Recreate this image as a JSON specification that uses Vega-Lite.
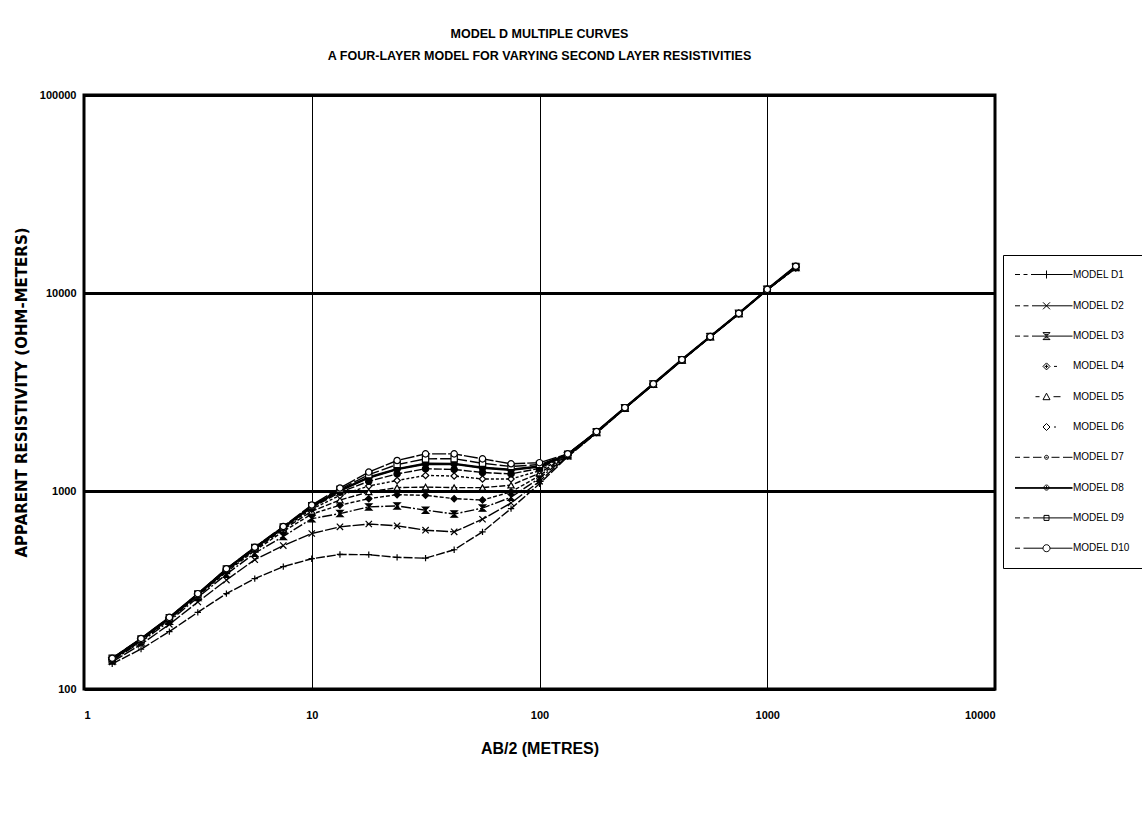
{
  "$schema": "https://vega.github.io/schema/vega-lite/v6.json",
  "autosize": "none",
  "width": 911,
  "height": 594,
  "padding": {"left": 84, "top": 95, "right": 147, "bottom": 127},
  "background": "white",
  "title": {
    "text": ["MODEL D MULTIPLE CURVES", "A FOUR-LAYER MODEL FOR  VARYING SECOND LAYER RESISTIVITIES"],
    "font": "Liberation Sans Narrow, Liberation Sans",
    "fontSize": 12.5,
    "fontWeight": "bold",
    "lineHeight": 22,
    "offset": 27,
    "frame": "group",
    "anchor": "middle",
    "color": "black"
  },
  "data": {
    "values": [
      {"m":"MODEL D1","x":1.33,"y":134},{"m":"MODEL D1","x":1.78,"y":159},{"m":"MODEL D1","x":2.37,"y":195},{"m":"MODEL D1","x":3.16,"y":244},{"m":"MODEL D1","x":4.22,"y":303},{"m":"MODEL D1","x":5.62,"y":361},{"m":"MODEL D1","x":7.5,"y":415},{"m":"MODEL D1","x":10,"y":455},{"m":"MODEL D1","x":13.3,"y":478},{"m":"MODEL D1","x":17.8,"y":477},{"m":"MODEL D1","x":23.7,"y":462},{"m":"MODEL D1","x":31.6,"y":458},{"m":"MODEL D1","x":42.2,"y":505},{"m":"MODEL D1","x":56.2,"y":622},{"m":"MODEL D1","x":75,"y":815},{"m":"MODEL D1","x":100,"y":1088},{"m":"MODEL D1","x":133,"y":1490},{"m":"MODEL D1","x":178,"y":1960},{"m":"MODEL D1","x":237,"y":2610},{"m":"MODEL D1","x":316,"y":3450},{"m":"MODEL D1","x":422,"y":4580},{"m":"MODEL D1","x":562,"y":6000},{"m":"MODEL D1","x":750,"y":7860},{"m":"MODEL D1","x":1000,"y":10380},{"m":"MODEL D1","x":1334,"y":13300},
      {"m":"MODEL D2","x":1.33,"y":137},{"m":"MODEL D2","x":1.78,"y":168},{"m":"MODEL D2","x":2.37,"y":212},{"m":"MODEL D2","x":3.16,"y":275},{"m":"MODEL D2","x":4.22,"y":355},{"m":"MODEL D2","x":5.62,"y":450},{"m":"MODEL D2","x":7.5,"y":530},{"m":"MODEL D2","x":10,"y":610},{"m":"MODEL D2","x":13.3,"y":659},{"m":"MODEL D2","x":17.8,"y":681},{"m":"MODEL D2","x":23.7,"y":667},{"m":"MODEL D2","x":31.6,"y":634},{"m":"MODEL D2","x":42.2,"y":622},{"m":"MODEL D2","x":56.2,"y":720},{"m":"MODEL D2","x":75,"y":870},{"m":"MODEL D2","x":100,"y":1120},{"m":"MODEL D2","x":133,"y":1500},{"m":"MODEL D2","x":178,"y":1970},{"m":"MODEL D2","x":237,"y":2615},{"m":"MODEL D2","x":316,"y":3455},{"m":"MODEL D2","x":422,"y":4585},{"m":"MODEL D2","x":562,"y":6005},{"m":"MODEL D2","x":750,"y":7865},{"m":"MODEL D2","x":1000,"y":10390},{"m":"MODEL D2","x":1334,"y":13400},
      {"m":"MODEL D3","x":1.33,"y":139},{"m":"MODEL D3","x":1.78,"y":173},{"m":"MODEL D3","x":2.37,"y":220},{"m":"MODEL D3","x":3.16,"y":290},{"m":"MODEL D3","x":4.22,"y":380},{"m":"MODEL D3","x":5.62,"y":485},{"m":"MODEL D3","x":7.5,"y":590},{"m":"MODEL D3","x":10,"y":725},{"m":"MODEL D3","x":13.3,"y":769},{"m":"MODEL D3","x":17.8,"y":831},{"m":"MODEL D3","x":23.7,"y":841},{"m":"MODEL D3","x":31.6,"y":800},{"m":"MODEL D3","x":42.2,"y":765},{"m":"MODEL D3","x":56.2,"y":820},{"m":"MODEL D3","x":75,"y":930},{"m":"MODEL D3","x":100,"y":1160},{"m":"MODEL D3","x":133,"y":1505},{"m":"MODEL D3","x":178,"y":1975},{"m":"MODEL D3","x":237,"y":2620},{"m":"MODEL D3","x":316,"y":3460},{"m":"MODEL D3","x":422,"y":4590},{"m":"MODEL D3","x":562,"y":6010},{"m":"MODEL D3","x":750,"y":7870},{"m":"MODEL D3","x":1000,"y":10400},{"m":"MODEL D3","x":1334,"y":13450},
      {"m":"MODEL D4","x":1.33,"y":140},{"m":"MODEL D4","x":1.78,"y":175},{"m":"MODEL D4","x":2.37,"y":224},{"m":"MODEL D4","x":3.16,"y":295},{"m":"MODEL D4","x":4.22,"y":390},{"m":"MODEL D4","x":5.62,"y":500},{"m":"MODEL D4","x":7.5,"y":625},{"m":"MODEL D4","x":10,"y":765},{"m":"MODEL D4","x":13.3,"y":848},{"m":"MODEL D4","x":17.8,"y":915},{"m":"MODEL D4","x":23.7,"y":958},{"m":"MODEL D4","x":31.6,"y":951},{"m":"MODEL D4","x":42.2,"y":915},{"m":"MODEL D4","x":56.2,"y":900},{"m":"MODEL D4","x":75,"y":990},{"m":"MODEL D4","x":100,"y":1195},{"m":"MODEL D4","x":133,"y":1510},{"m":"MODEL D4","x":178,"y":1980},{"m":"MODEL D4","x":237,"y":2620},{"m":"MODEL D4","x":316,"y":3460},{"m":"MODEL D4","x":422,"y":4590},{"m":"MODEL D4","x":562,"y":6010},{"m":"MODEL D4","x":750,"y":7870},{"m":"MODEL D4","x":1000,"y":10400},{"m":"MODEL D4","x":1334,"y":13500},
      {"m":"MODEL D5","x":1.33,"y":141},{"m":"MODEL D5","x":1.78,"y":176},{"m":"MODEL D5","x":2.37,"y":226},{"m":"MODEL D5","x":3.16,"y":297},{"m":"MODEL D5","x":4.22,"y":395},{"m":"MODEL D5","x":5.62,"y":507},{"m":"MODEL D5","x":7.5,"y":640},{"m":"MODEL D5","x":10,"y":790},{"m":"MODEL D5","x":13.3,"y":900},{"m":"MODEL D5","x":17.8,"y":990},{"m":"MODEL D5","x":23.7,"y":1040},{"m":"MODEL D5","x":31.6,"y":1047},{"m":"MODEL D5","x":42.2,"y":1040},{"m":"MODEL D5","x":56.2,"y":1040},{"m":"MODEL D5","x":75,"y":1070},{"m":"MODEL D5","x":100,"y":1230},{"m":"MODEL D5","x":133,"y":1515},{"m":"MODEL D5","x":178,"y":1980},{"m":"MODEL D5","x":237,"y":2625},{"m":"MODEL D5","x":316,"y":3465},{"m":"MODEL D5","x":422,"y":4595},{"m":"MODEL D5","x":562,"y":6015},{"m":"MODEL D5","x":750,"y":7875},{"m":"MODEL D5","x":1000,"y":10410},{"m":"MODEL D5","x":1334,"y":13500},
      {"m":"MODEL D6","x":1.33,"y":141},{"m":"MODEL D6","x":1.78,"y":177},{"m":"MODEL D6","x":2.37,"y":227},{"m":"MODEL D6","x":3.16,"y":299},{"m":"MODEL D6","x":4.22,"y":398},{"m":"MODEL D6","x":5.62,"y":511},{"m":"MODEL D6","x":7.5,"y":648},{"m":"MODEL D6","x":10,"y":810},{"m":"MODEL D6","x":13.3,"y":950},{"m":"MODEL D6","x":17.8,"y":1060},{"m":"MODEL D6","x":23.7,"y":1130},{"m":"MODEL D6","x":31.6,"y":1199},{"m":"MODEL D6","x":42.2,"y":1190},{"m":"MODEL D6","x":56.2,"y":1150},{"m":"MODEL D6","x":75,"y":1150},{"m":"MODEL D6","x":100,"y":1265},{"m":"MODEL D6","x":133,"y":1520},{"m":"MODEL D6","x":178,"y":1985},{"m":"MODEL D6","x":237,"y":2625},{"m":"MODEL D6","x":316,"y":3465},{"m":"MODEL D6","x":422,"y":4595},{"m":"MODEL D6","x":562,"y":6015},{"m":"MODEL D6","x":750,"y":7875},{"m":"MODEL D6","x":1000,"y":10410},{"m":"MODEL D6","x":1334,"y":13550},
      {"m":"MODEL D7","x":1.33,"y":142},{"m":"MODEL D7","x":1.78,"y":178},{"m":"MODEL D7","x":2.37,"y":228},{"m":"MODEL D7","x":3.16,"y":300},{"m":"MODEL D7","x":4.22,"y":400},{"m":"MODEL D7","x":5.62,"y":514},{"m":"MODEL D7","x":7.5,"y":652},{"m":"MODEL D7","x":10,"y":825},{"m":"MODEL D7","x":13.3,"y":985},{"m":"MODEL D7","x":17.8,"y":1120},{"m":"MODEL D7","x":23.7,"y":1220},{"m":"MODEL D7","x":31.6,"y":1295},{"m":"MODEL D7","x":42.2,"y":1285},{"m":"MODEL D7","x":56.2,"y":1240},{"m":"MODEL D7","x":75,"y":1220},{"m":"MODEL D7","x":100,"y":1300},{"m":"MODEL D7","x":133,"y":1525},{"m":"MODEL D7","x":178,"y":1985},{"m":"MODEL D7","x":237,"y":2630},{"m":"MODEL D7","x":316,"y":3470},{"m":"MODEL D7","x":422,"y":4600},{"m":"MODEL D7","x":562,"y":6020},{"m":"MODEL D7","x":750,"y":7880},{"m":"MODEL D7","x":1000,"y":10420},{"m":"MODEL D7","x":1334,"y":13550},
      {"m":"MODEL D8","x":1.33,"y":142},{"m":"MODEL D8","x":1.78,"y":179},{"m":"MODEL D8","x":2.37,"y":229},{"m":"MODEL D8","x":3.16,"y":301},{"m":"MODEL D8","x":4.22,"y":402},{"m":"MODEL D8","x":5.62,"y":516},{"m":"MODEL D8","x":7.5,"y":655},{"m":"MODEL D8","x":10,"y":835},{"m":"MODEL D8","x":13.3,"y":1005},{"m":"MODEL D8","x":17.8,"y":1170},{"m":"MODEL D8","x":23.7,"y":1290},{"m":"MODEL D8","x":31.6,"y":1372},{"m":"MODEL D8","x":42.2,"y":1370},{"m":"MODEL D8","x":56.2,"y":1310},{"m":"MODEL D8","x":75,"y":1280},{"m":"MODEL D8","x":100,"y":1330},{"m":"MODEL D8","x":133,"y":1530},{"m":"MODEL D8","x":178,"y":1990},{"m":"MODEL D8","x":237,"y":2630},{"m":"MODEL D8","x":316,"y":3470},{"m":"MODEL D8","x":422,"y":4600},{"m":"MODEL D8","x":562,"y":6020},{"m":"MODEL D8","x":750,"y":7880},{"m":"MODEL D8","x":1000,"y":10420},{"m":"MODEL D8","x":1334,"y":13600},
      {"m":"MODEL D9","x":1.33,"y":143},{"m":"MODEL D9","x":1.78,"y":179},{"m":"MODEL D9","x":2.37,"y":229},{"m":"MODEL D9","x":3.16,"y":302},{"m":"MODEL D9","x":4.22,"y":404},{"m":"MODEL D9","x":5.62,"y":518},{"m":"MODEL D9","x":7.5,"y":658},{"m":"MODEL D9","x":10,"y":843},{"m":"MODEL D9","x":13.3,"y":1020},{"m":"MODEL D9","x":17.8,"y":1210},{"m":"MODEL D9","x":23.7,"y":1360},{"m":"MODEL D9","x":31.6,"y":1453},{"m":"MODEL D9","x":42.2,"y":1455},{"m":"MODEL D9","x":56.2,"y":1380},{"m":"MODEL D9","x":75,"y":1330},{"m":"MODEL D9","x":100,"y":1360},{"m":"MODEL D9","x":133,"y":1535},{"m":"MODEL D9","x":178,"y":1990},{"m":"MODEL D9","x":237,"y":2635},{"m":"MODEL D9","x":316,"y":3475},{"m":"MODEL D9","x":422,"y":4605},{"m":"MODEL D9","x":562,"y":6025},{"m":"MODEL D9","x":750,"y":7885},{"m":"MODEL D9","x":1000,"y":10430},{"m":"MODEL D9","x":1334,"y":13600},
      {"m":"MODEL D10","x":1.33,"y":143},{"m":"MODEL D10","x":1.78,"y":180},{"m":"MODEL D10","x":2.37,"y":230},{"m":"MODEL D10","x":3.16,"y":303},{"m":"MODEL D10","x":4.22,"y":405},{"m":"MODEL D10","x":5.62,"y":520},{"m":"MODEL D10","x":7.5,"y":662},{"m":"MODEL D10","x":10,"y":850},{"m":"MODEL D10","x":13.3,"y":1035},{"m":"MODEL D10","x":17.8,"y":1246},{"m":"MODEL D10","x":23.7,"y":1426},{"m":"MODEL D10","x":31.6,"y":1540},{"m":"MODEL D10","x":42.2,"y":1540},{"m":"MODEL D10","x":56.2,"y":1453},{"m":"MODEL D10","x":75,"y":1372},{"m":"MODEL D10","x":100,"y":1390},{"m":"MODEL D10","x":133,"y":1540},{"m":"MODEL D10","x":178,"y":1995},{"m":"MODEL D10","x":237,"y":2635},{"m":"MODEL D10","x":316,"y":3475},{"m":"MODEL D10","x":422,"y":4605},{"m":"MODEL D10","x":562,"y":6025},{"m":"MODEL D10","x":750,"y":7885},{"m":"MODEL D10","x":1000,"y":10430},{"m":"MODEL D10","x":1334,"y":13650}
    ]
  },
  "encoding": {
    "x": {
      "field": "x",
      "type": "quantitative",
      "title": "AB/2 (METRES)",
      "scale": {"type": "log", "domain": [1, 10000], "nice": false},
      "axis": {
        "values": [1, 10, 100, 1000, 10000],
        "format": "d",
        "gridColor": "black",
        "gridWidth": 1,
        "gridOpacity": 1,
        "ticks": false,
        "domain": false,
        "labelPadding": 20,
        "labelFontSize": 11,
        "labelFontWeight": "bold",
        "titleFontSize": 16,
        "titleFontWeight": "bold",
        "titlePadding": 20
      }
    },
    "y": {
      "field": "y",
      "type": "quantitative",
      "title": "APPARENT RESISTIVITY (OHM-METERS)",
      "scale": {"type": "log", "domain": [100, 100000], "nice": false},
      "axis": {
        "values": [100, 1000, 10000, 100000],
        "format": "d",
        "gridColor": "black",
        "gridWidth": 3,
        "gridOpacity": 1,
        "ticks": false,
        "domain": false,
        "labelPadding": 8,
        "labelFontSize": 11,
        "labelFontWeight": "bold",
        "titleFontSize": 15,
        "titleFontWeight": "bold",
        "titleFont": "DejaVu Sans",
        "titlePadding": 10
      }
    }
  },
  "layer": [
    {
      "mark": {"type": "line", "color": "black", "strokeWidth": 1.4, "clip": true},
      "encoding": {
        "detail": {"field": "m", "type": "nominal"},
        "strokeDash": {
          "field": "m",
          "type": "nominal",
          "legend": null,
          "scale": {
            "domain": ["MODEL D1","MODEL D2","MODEL D3","MODEL D4","MODEL D5","MODEL D6","MODEL D7","MODEL D8","MODEL D9","MODEL D10"],
            "range": [[9,2],[12,2],[10,2,2,2],[4,2],[6,2],[3,2],[8,2],[1,0],[12,3],[14,2]]
          }
        }
      }
    },
    {
      "transform": [{"filter": "datum.m == 'MODEL D8'"}],
      "mark": {"type": "line", "color": "black", "strokeWidth": 2.4, "clip": true},
      "encoding": {}
    },
    {
      "mark": {"type": "point", "filled": true, "stroke": "black", "strokeWidth": 1.2, "size": 40, "opacity": 1, "clip": true},
      "encoding": {
        "shape": {
          "field": "m",
          "type": "nominal",
          "legend": null,
          "scale": {
            "domain": ["MODEL D1","MODEL D2","MODEL D3","MODEL D4","MODEL D5","MODEL D6","MODEL D7","MODEL D8","MODEL D9","MODEL D10"],
            "range": ["M-1,0L1,0M0,-1L0,1", "M-1,-1L1,1M-1,1L1,-1", "M-1,-1L1,-1L-1,1L1,1Z", "diamond", "triangle-up", "diamond", "circle", "circle", "square", "circle"]
          }
        },
        "fill": {
          "field": "m",
          "type": "nominal",
          "legend": null,
          "scale": {
            "domain": ["MODEL D1","MODEL D2","MODEL D3","MODEL D4","MODEL D5","MODEL D6","MODEL D7","MODEL D8","MODEL D9","MODEL D10"],
            "range": ["black","black","black","black","white","white","black","black","white","white"]
          }
        }
      }
    },
    {
      "transform": [{"filter": "datum.x == 1334"}],
      "mark": {"type": "point", "filled": false, "color": "black", "strokeWidth": 1, "size": 64, "opacity": 0},
      "encoding": {
        "shape": {
          "field": "m",
          "type": "nominal",
          "title": null,
          "scale": {
            "domain": ["MODEL D1","MODEL D2","MODEL D3","MODEL D4","MODEL D5","MODEL D6","MODEL D7","MODEL D8","MODEL D9","MODEL D10"],
            "range": [
              "M-1.5,0L-0.5,0M0.2,0L1,0M1.7,0L10,0M4.8,-0.8L4.8,0.8",
              "M-1.5,0L-0.5,0M0.2,0L1.2,0M1.9,0L10,0M4.1,-0.7L5.5,0.7M4.1,0.7L5.5,-0.7",
              "M-1.5,0L-0.5,0M0.2,0L1.2,0M1.9,0L10,0M4.1,-0.7L5.5,-0.7L4.1,0.7L5.5,0.7ZM4.5,-0.35L5.1,-0.35M4.5,0.35L5.1,0.35",
              "M4.1,0L4.8,-0.7L5.5,0L4.8,0.7ZM4.45,0L5.15,0M4.8,-0.35L4.8,0.35M6.3,0L6.9,0",
              "M2.6,0L3.4,0M4.1,0.6L4.8,-0.7L5.5,0.6ZM6.2,0L7.6,0",
              "M4.1,0L4.8,-0.7L5.5,0L4.8,0.7ZM6.3,0L6.7,0",
              "M-1.5,0L-0.5,0M0.2,0L1.4,0M2.1,0L3.8,0M5.8,0L7.4,0M8.1,0L10,0M4.4,0A0.4,0.4 0 1,0 5.2,0A0.4,0.4 0 1,0 4.4,0ZM4.6,0L5,0",
              "M-1.5,0L10,0M-1.5,0.15L10,0.15M4.3,0A0.5,0.5 0 1,0 5.3,0A0.5,0.5 0 1,0 4.3,0ZM4.8,-0.3L4.8,0.3",
              "M-1.5,0L-0.5,0M0.2,0L1.4,0M2.1,0L10,0M4.3,-0.5L5.3,-0.5L5.3,0.5L4.3,0.5Z",
              "M-1.5,0L-0.5,0M0.2,0L4.1,0M5.5,0L10,0M4.1,0A0.7,0.7 0 1,0 5.5,0A0.7,0.7 0 1,0 4.1,0Z"
            ]
          },
          "legend": {
            "orient": "none",
            "legendX": 919,
            "legendY": 160,
            "strokeColor": "black",
            "fillColor": "white",
            "padding": 14,
            "labelOffset": 45,
            "labelFontSize": 10,
            "rowPadding": 19.3,
            "symbolStrokeColor": "black",
            "symbolStrokeWidth": 1,
            "symbolFillColor": "transparent",
            "symbolOpacity": 1
          }
        }
      }
    }
  ],
  "resolve": {"scale": {"shape": "independent", "fill": "independent"}},
  "config": {
    "font": "Liberation Sans Narrow, Liberation Sans",
    "view": {"stroke": "black", "strokeWidth": 3},
    "axis": {"labelColor": "black", "titleColor": "black", "labelFont": "Liberation Sans Narrow, Liberation Sans", "titleFont": "Liberation Sans Narrow, Liberation Sans"},
    "legend": {"labelFont": "Liberation Sans Narrow, Liberation Sans", "labelFontSize": 10, "labelColor": "black"}
  }
}
